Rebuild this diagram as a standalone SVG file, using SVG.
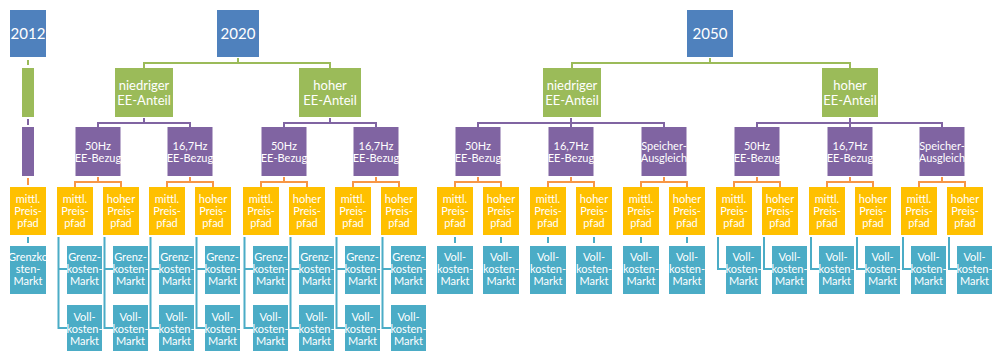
<svg xmlns="http://www.w3.org/2000/svg" width="998" height="351" viewBox="0 0 998 351">
<style>
.t{font-family:Lato,"Open Sans","Liberation Sans",sans-serif;fill:#fff;text-anchor:middle}
.ty{font-size:15px}
.tg{font-size:13px}
.ts{font-size:11px}
.yr{fill:#4F81BD}
.gr{fill:#9BBB59}
.pu{fill:#8064A2}
.or{fill:#FFC000}
.bl{fill:#4BACC6}
.c{fill:none;stroke-width:2}
.cg{stroke:#9BBB59}.cp{stroke:#8064A2}.co{stroke:#F79646}.cb{stroke:#4BACC6}
</style>
<rect width="998" height="351" fill="#fff"/>
<g id="connectors">
<path class="c cg" d="M28,60V65M144,68V63H330V68M238,58V63M572,68V63H850V68M710,58V63"/>
<path class="c cp" d="M28,119V125M98,127V123H190V127M144,118V123M284,127V123H376V127M330,118V123M478,127V123H664V127M571,118V127M757,127V123H942V127M850,118V127"/>
<path class="c co" d="M28,178V185M75,187V182H121V187M98,177V182M167,187V182H213V187M190,177V182M261,187V182H307V187M284,177V182M353,187V182H399V187M376,177V182M455,187V182H501V187M478,177V182M548,187V182H594V187M571,177V182M641,187V182H687V187M664,177V182M734,187V182H780V187M757,177V182M827,187V182H873V187M850,177V182M919,187V182H965V187M942,177V182"/>
<path class="c cb" d="M28,237V243M58.5,237V328H67M58.5,269H67M104.5,237V328H113M104.5,269H113M150.5,237V328H159M150.5,269H159M196.5,237V328H205M196.5,269H205M244.5,237V328H253M244.5,269H253M290.5,237V328H299M290.5,269H299M336.5,237V328H345M336.5,269H345M382.5,237V328H391M382.5,269H391M455,237V243M501,237V243M548,237V243M594,237V243M641,237V243M687,237V243M718,237V269H726M764,237V269H772M811,237V269H819M857,237V269H865M903,237V269H911M949,237V269H957"/>
</g>
<g id="y2012"><rect class="yr" x="10" y="10" width="36" height="47"/><text class="t ty" x="28" y="39">2012</text></g>
<g id="y2020"><rect class="yr" x="217" y="10" width="42" height="47"/><text class="t ty" x="238" y="39">2020</text></g>
<g id="y2050"><rect class="yr" x="687" y="10" width="46" height="47"/><text class="t ty" x="710" y="39">2050</text></g>
<g id="g2012"><rect class="gr" x="22" y="68" width="12" height="49"/></g>
<g id="g20n"><rect class="gr" x="115" y="68" width="58" height="49"/><text class="t tg" x="144"><tspan x="144" y="90">niedriger</tspan><tspan x="144" y="105">EE-Anteil</tspan></text></g>
<g id="g20h"><rect class="gr" x="299" y="68" width="62" height="49"/><text class="t tg" x="330"><tspan x="330" y="90">hoher</tspan><tspan x="330" y="105">EE-Anteil</tspan></text></g>
<g id="g50n"><rect class="gr" x="543" y="68" width="58" height="49"/><text class="t tg" x="572"><tspan x="572" y="90">niedriger</tspan><tspan x="572" y="105">EE-Anteil</tspan></text></g>
<g id="g50h"><rect class="gr" x="822" y="68" width="56" height="49"/><text class="t tg" x="850"><tspan x="850" y="90">hoher</tspan><tspan x="850" y="105">EE-Anteil</tspan></text></g>
<g id="p2012"><rect class="pu" x="22" y="127" width="12" height="49"/></g>
<g id="p1"><rect class="pu" x="75.5" y="127" width="45" height="49"/><text class="t ts"><tspan x="98" y="150">50Hz</tspan><tspan x="98" y="161.5">EE-Bezug</tspan></text></g>
<g id="p2"><rect class="pu" x="167.5" y="127" width="45" height="49"/><text class="t ts"><tspan x="190" y="150">16,7Hz</tspan><tspan x="190" y="161.5">EE-Bezug</tspan></text></g>
<g id="p3"><rect class="pu" x="261.5" y="127" width="45" height="49"/><text class="t ts"><tspan x="284" y="150">50Hz</tspan><tspan x="284" y="161.5">EE-Bezug</tspan></text></g>
<g id="p4"><rect class="pu" x="353.5" y="127" width="45" height="49"/><text class="t ts"><tspan x="376" y="150">16,7Hz</tspan><tspan x="376" y="161.5">EE-Bezug</tspan></text></g>
<g id="p5"><rect class="pu" x="455.5" y="127" width="45" height="49"/><text class="t ts"><tspan x="478" y="150">50Hz</tspan><tspan x="478" y="161.5">EE-Bezug</tspan></text></g>
<g id="p6"><rect class="pu" x="548.5" y="127" width="45" height="49"/><text class="t ts"><tspan x="571" y="150">16,7Hz</tspan><tspan x="571" y="161.5">EE-Bezug</tspan></text></g>
<g id="p7"><rect class="pu" x="641.5" y="127" width="45" height="49"/><text class="t ts"><tspan x="664" y="150">Speicher-</tspan><tspan x="664" y="161.5">Ausgleich</tspan></text></g>
<g id="p8"><rect class="pu" x="734.5" y="127" width="45" height="49"/><text class="t ts"><tspan x="757" y="150">50Hz</tspan><tspan x="757" y="161.5">EE-Bezug</tspan></text></g>
<g id="p9"><rect class="pu" x="827.5" y="127" width="45" height="49"/><text class="t ts"><tspan x="850" y="150">16,7Hz</tspan><tspan x="850" y="161.5">EE-Bezug</tspan></text></g>
<g id="p10"><rect class="pu" x="919.5" y="127" width="45" height="49"/><text class="t ts"><tspan x="942" y="150">Speicher-</tspan><tspan x="942" y="161.5">Ausgleich</tspan></text></g>
<g id="o2012"><rect class="or" x="10" y="187" width="36" height="48"/><text class="t ts"><tspan x="28" y="203">mittl.</tspan><tspan x="28" y="215">Preis-</tspan><tspan x="28" y="227">pfad</tspan></text></g>
<g id="o1"><rect class="or" x="57" y="187" width="36" height="48"/><text class="t ts"><tspan x="75" y="203">mittl.</tspan><tspan x="75" y="215">Preis-</tspan><tspan x="75" y="227">pfad</tspan></text></g>
<g id="o2"><rect class="or" x="103" y="187" width="36" height="48"/><text class="t ts"><tspan x="121" y="203">hoher</tspan><tspan x="121" y="215">Preis-</tspan><tspan x="121" y="227">pfad</tspan></text></g>
<g id="o3"><rect class="or" x="149" y="187" width="36" height="48"/><text class="t ts"><tspan x="167" y="203">mittl.</tspan><tspan x="167" y="215">Preis-</tspan><tspan x="167" y="227">pfad</tspan></text></g>
<g id="o4"><rect class="or" x="195" y="187" width="36" height="48"/><text class="t ts"><tspan x="213" y="203">hoher</tspan><tspan x="213" y="215">Preis-</tspan><tspan x="213" y="227">pfad</tspan></text></g>
<g id="o5"><rect class="or" x="243" y="187" width="36" height="48"/><text class="t ts"><tspan x="261" y="203">mittl.</tspan><tspan x="261" y="215">Preis-</tspan><tspan x="261" y="227">pfad</tspan></text></g>
<g id="o6"><rect class="or" x="289" y="187" width="36" height="48"/><text class="t ts"><tspan x="307" y="203">hoher</tspan><tspan x="307" y="215">Preis-</tspan><tspan x="307" y="227">pfad</tspan></text></g>
<g id="o7"><rect class="or" x="335" y="187" width="36" height="48"/><text class="t ts"><tspan x="353" y="203">mittl.</tspan><tspan x="353" y="215">Preis-</tspan><tspan x="353" y="227">pfad</tspan></text></g>
<g id="o8"><rect class="or" x="381" y="187" width="36" height="48"/><text class="t ts"><tspan x="399" y="203">hoher</tspan><tspan x="399" y="215">Preis-</tspan><tspan x="399" y="227">pfad</tspan></text></g>
<g id="o9"><rect class="or" x="437" y="187" width="36" height="48"/><text class="t ts"><tspan x="455" y="203">mittl.</tspan><tspan x="455" y="215">Preis-</tspan><tspan x="455" y="227">pfad</tspan></text></g>
<g id="o10"><rect class="or" x="483" y="187" width="36" height="48"/><text class="t ts"><tspan x="501" y="203">hoher</tspan><tspan x="501" y="215">Preis-</tspan><tspan x="501" y="227">pfad</tspan></text></g>
<g id="o11"><rect class="or" x="530" y="187" width="36" height="48"/><text class="t ts"><tspan x="548" y="203">mittl.</tspan><tspan x="548" y="215">Preis-</tspan><tspan x="548" y="227">pfad</tspan></text></g>
<g id="o12"><rect class="or" x="576" y="187" width="36" height="48"/><text class="t ts"><tspan x="594" y="203">hoher</tspan><tspan x="594" y="215">Preis-</tspan><tspan x="594" y="227">pfad</tspan></text></g>
<g id="o13"><rect class="or" x="623" y="187" width="36" height="48"/><text class="t ts"><tspan x="641" y="203">mittl.</tspan><tspan x="641" y="215">Preis-</tspan><tspan x="641" y="227">pfad</tspan></text></g>
<g id="o14"><rect class="or" x="669" y="187" width="36" height="48"/><text class="t ts"><tspan x="687" y="203">hoher</tspan><tspan x="687" y="215">Preis-</tspan><tspan x="687" y="227">pfad</tspan></text></g>
<g id="o15"><rect class="or" x="716" y="187" width="36" height="48"/><text class="t ts"><tspan x="734" y="203">mittl.</tspan><tspan x="734" y="215">Preis-</tspan><tspan x="734" y="227">pfad</tspan></text></g>
<g id="o16"><rect class="or" x="762" y="187" width="36" height="48"/><text class="t ts"><tspan x="780" y="203">hoher</tspan><tspan x="780" y="215">Preis-</tspan><tspan x="780" y="227">pfad</tspan></text></g>
<g id="o17"><rect class="or" x="809" y="187" width="36" height="48"/><text class="t ts"><tspan x="827" y="203">mittl.</tspan><tspan x="827" y="215">Preis-</tspan><tspan x="827" y="227">pfad</tspan></text></g>
<g id="o18"><rect class="or" x="855" y="187" width="36" height="48"/><text class="t ts"><tspan x="873" y="203">hoher</tspan><tspan x="873" y="215">Preis-</tspan><tspan x="873" y="227">pfad</tspan></text></g>
<g id="o19"><rect class="or" x="901" y="187" width="36" height="48"/><text class="t ts"><tspan x="919" y="203">mittl.</tspan><tspan x="919" y="215">Preis-</tspan><tspan x="919" y="227">pfad</tspan></text></g>
<g id="o20"><rect class="or" x="947" y="187" width="36" height="48"/><text class="t ts"><tspan x="965" y="203">hoher</tspan><tspan x="965" y="215">Preis-</tspan><tspan x="965" y="227">pfad</tspan></text></g>
<g id="b2012"><rect class="bl" x="10" y="246" width="36" height="48"/><text class="t ts"><tspan x="28" y="261">Grenzko</tspan><tspan x="28" y="273">sten-</tspan><tspan x="28" y="285">Markt</tspan></text></g>
<g id="bg1"><rect class="bl" x="67" y="246" width="35" height="48"/><text class="t ts"><tspan x="84.5" y="261">Grenz-</tspan><tspan x="84.5" y="273">kosten-</tspan><tspan x="84.5" y="285">Markt</tspan></text></g>
<g id="bg2"><rect class="bl" x="113" y="246" width="35" height="48"/><text class="t ts"><tspan x="130.5" y="261">Grenz-</tspan><tspan x="130.5" y="273">kosten-</tspan><tspan x="130.5" y="285">Markt</tspan></text></g>
<g id="bg3"><rect class="bl" x="159" y="246" width="35" height="48"/><text class="t ts"><tspan x="176.5" y="261">Grenz-</tspan><tspan x="176.5" y="273">kosten-</tspan><tspan x="176.5" y="285">Markt</tspan></text></g>
<g id="bg4"><rect class="bl" x="205" y="246" width="35" height="48"/><text class="t ts"><tspan x="222.5" y="261">Grenz-</tspan><tspan x="222.5" y="273">kosten-</tspan><tspan x="222.5" y="285">Markt</tspan></text></g>
<g id="bg5"><rect class="bl" x="253" y="246" width="35" height="48"/><text class="t ts"><tspan x="270.5" y="261">Grenz-</tspan><tspan x="270.5" y="273">kosten-</tspan><tspan x="270.5" y="285">Markt</tspan></text></g>
<g id="bg6"><rect class="bl" x="299" y="246" width="35" height="48"/><text class="t ts"><tspan x="316.5" y="261">Grenz-</tspan><tspan x="316.5" y="273">kosten-</tspan><tspan x="316.5" y="285">Markt</tspan></text></g>
<g id="bg7"><rect class="bl" x="345" y="246" width="35" height="48"/><text class="t ts"><tspan x="362.5" y="261">Grenz-</tspan><tspan x="362.5" y="273">kosten-</tspan><tspan x="362.5" y="285">Markt</tspan></text></g>
<g id="bg8"><rect class="bl" x="391" y="246" width="35" height="48"/><text class="t ts"><tspan x="408.5" y="261">Grenz-</tspan><tspan x="408.5" y="273">kosten-</tspan><tspan x="408.5" y="285">Markt</tspan></text></g>
<g id="bv1"><rect class="bl" x="67" y="305" width="35" height="48"/><text class="t ts"><tspan x="84.5" y="321">Voll-</tspan><tspan x="84.5" y="333">kosten-</tspan><tspan x="84.5" y="345">Markt</tspan></text></g>
<g id="bv2"><rect class="bl" x="113" y="305" width="35" height="48"/><text class="t ts"><tspan x="130.5" y="321">Voll-</tspan><tspan x="130.5" y="333">kosten-</tspan><tspan x="130.5" y="345">Markt</tspan></text></g>
<g id="bv3"><rect class="bl" x="159" y="305" width="35" height="48"/><text class="t ts"><tspan x="176.5" y="321">Voll-</tspan><tspan x="176.5" y="333">kosten-</tspan><tspan x="176.5" y="345">Markt</tspan></text></g>
<g id="bv4"><rect class="bl" x="205" y="305" width="35" height="48"/><text class="t ts"><tspan x="222.5" y="321">Voll-</tspan><tspan x="222.5" y="333">kosten-</tspan><tspan x="222.5" y="345">Markt</tspan></text></g>
<g id="bv5"><rect class="bl" x="253" y="305" width="35" height="48"/><text class="t ts"><tspan x="270.5" y="321">Voll-</tspan><tspan x="270.5" y="333">kosten-</tspan><tspan x="270.5" y="345">Markt</tspan></text></g>
<g id="bv6"><rect class="bl" x="299" y="305" width="35" height="48"/><text class="t ts"><tspan x="316.5" y="321">Voll-</tspan><tspan x="316.5" y="333">kosten-</tspan><tspan x="316.5" y="345">Markt</tspan></text></g>
<g id="bv7"><rect class="bl" x="345" y="305" width="35" height="48"/><text class="t ts"><tspan x="362.5" y="321">Voll-</tspan><tspan x="362.5" y="333">kosten-</tspan><tspan x="362.5" y="345">Markt</tspan></text></g>
<g id="bv8"><rect class="bl" x="391" y="305" width="35" height="48"/><text class="t ts"><tspan x="408.5" y="321">Voll-</tspan><tspan x="408.5" y="333">kosten-</tspan><tspan x="408.5" y="345">Markt</tspan></text></g>
<g id="bv9"><rect class="bl" x="437" y="246" width="36" height="48"/><text class="t ts"><tspan x="455" y="261">Voll-</tspan><tspan x="455" y="273">kosten-</tspan><tspan x="455" y="285">Markt</tspan></text></g>
<g id="bv10"><rect class="bl" x="483" y="246" width="36" height="48"/><text class="t ts"><tspan x="501" y="261">Voll-</tspan><tspan x="501" y="273">kosten-</tspan><tspan x="501" y="285">Markt</tspan></text></g>
<g id="bv11"><rect class="bl" x="530" y="246" width="36" height="48"/><text class="t ts"><tspan x="548" y="261">Voll-</tspan><tspan x="548" y="273">kosten-</tspan><tspan x="548" y="285">Markt</tspan></text></g>
<g id="bv12"><rect class="bl" x="576" y="246" width="36" height="48"/><text class="t ts"><tspan x="594" y="261">Voll-</tspan><tspan x="594" y="273">kosten-</tspan><tspan x="594" y="285">Markt</tspan></text></g>
<g id="bv13"><rect class="bl" x="623" y="246" width="36" height="48"/><text class="t ts"><tspan x="641" y="261">Voll-</tspan><tspan x="641" y="273">kosten-</tspan><tspan x="641" y="285">Markt</tspan></text></g>
<g id="bv14"><rect class="bl" x="669" y="246" width="36" height="48"/><text class="t ts"><tspan x="687" y="261">Voll-</tspan><tspan x="687" y="273">kosten-</tspan><tspan x="687" y="285">Markt</tspan></text></g>
<g id="bv15"><rect class="bl" x="726" y="246" width="35" height="48"/><text class="t ts"><tspan x="743.5" y="261">Voll-</tspan><tspan x="743.5" y="273">kosten-</tspan><tspan x="743.5" y="285">Markt</tspan></text></g>
<g id="bv16"><rect class="bl" x="772" y="246" width="35" height="48"/><text class="t ts"><tspan x="789.5" y="261">Voll-</tspan><tspan x="789.5" y="273">kosten-</tspan><tspan x="789.5" y="285">Markt</tspan></text></g>
<g id="bv17"><rect class="bl" x="819" y="246" width="35" height="48"/><text class="t ts"><tspan x="836.5" y="261">Voll-</tspan><tspan x="836.5" y="273">kosten-</tspan><tspan x="836.5" y="285">Markt</tspan></text></g>
<g id="bv18"><rect class="bl" x="865" y="246" width="35" height="48"/><text class="t ts"><tspan x="882.5" y="261">Voll-</tspan><tspan x="882.5" y="273">kosten-</tspan><tspan x="882.5" y="285">Markt</tspan></text></g>
<g id="bv19"><rect class="bl" x="911" y="246" width="35" height="48"/><text class="t ts"><tspan x="928.5" y="261">Voll-</tspan><tspan x="928.5" y="273">kosten-</tspan><tspan x="928.5" y="285">Markt</tspan></text></g>
<g id="bv20"><rect class="bl" x="957" y="246" width="35" height="48"/><text class="t ts"><tspan x="974.5" y="261">Voll-</tspan><tspan x="974.5" y="273">kosten-</tspan><tspan x="974.5" y="285">Markt</tspan></text></g>
</svg>
